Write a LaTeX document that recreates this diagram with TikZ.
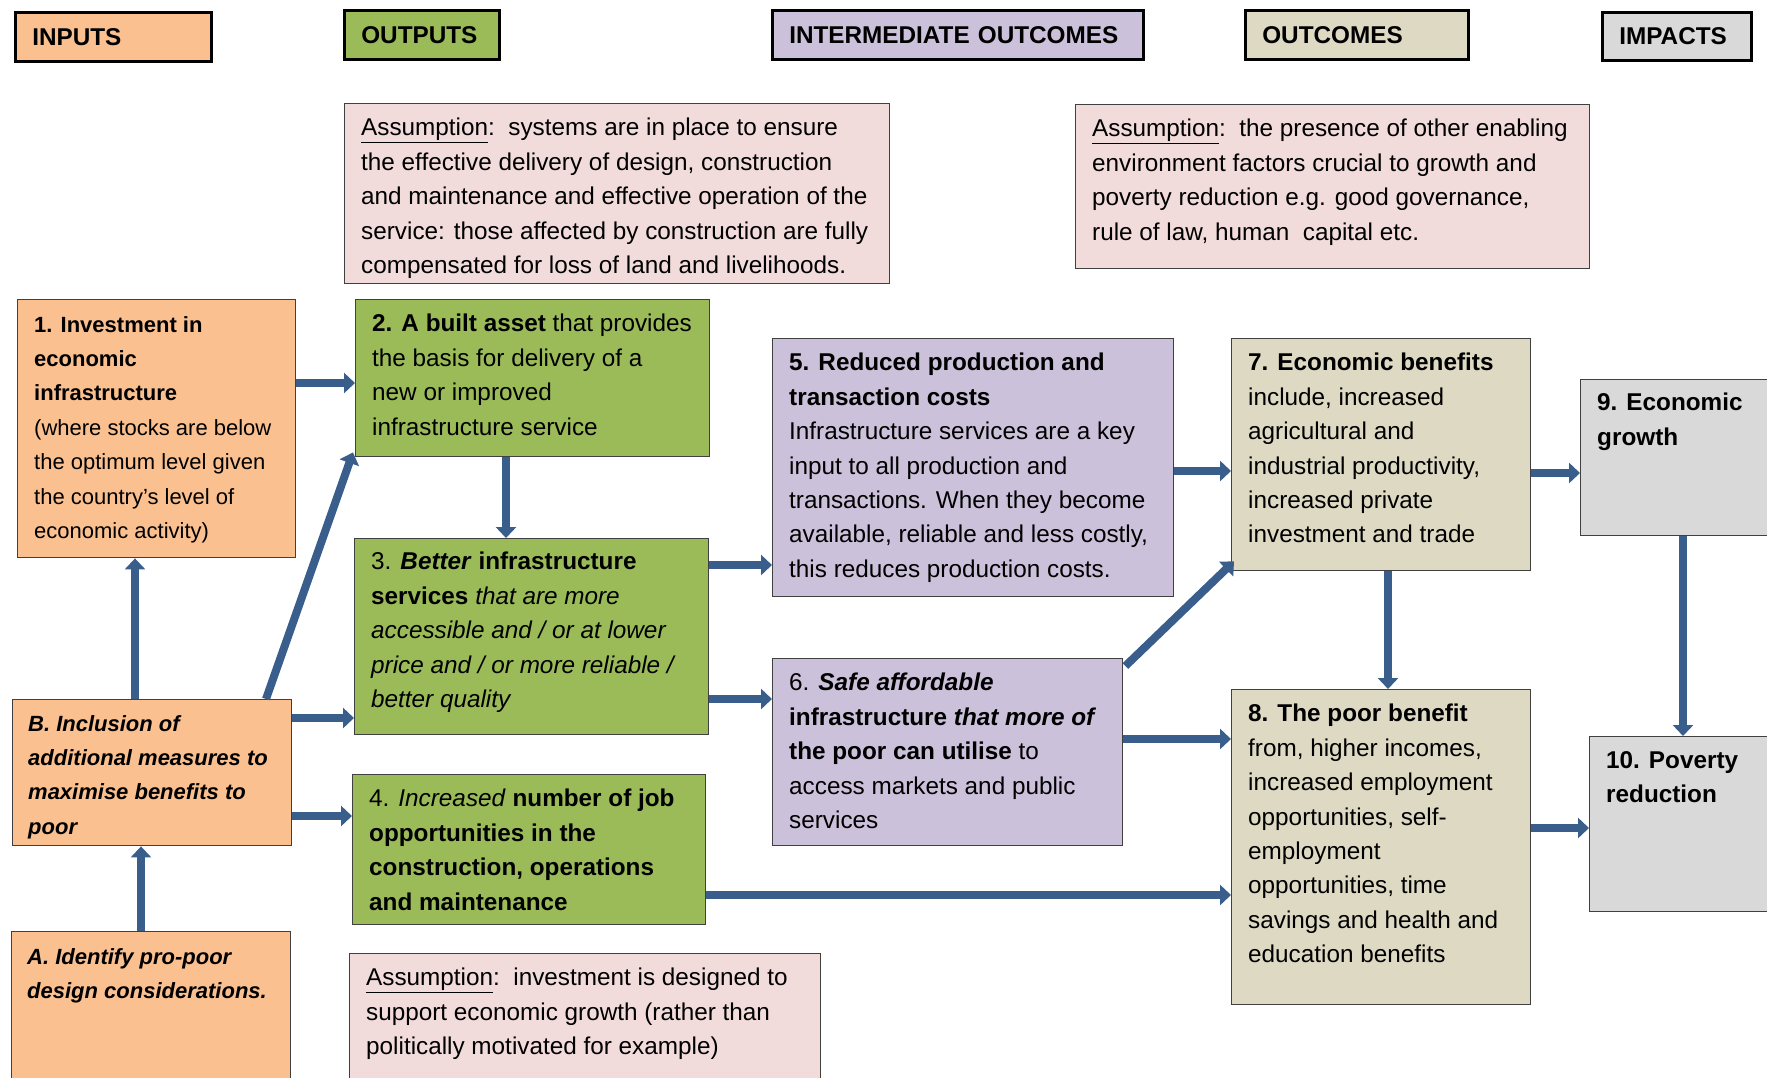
\documentclass[tikz,border=0pt]{standalone}
\usepackage{fontspec}
\setmainfont{Liberation Sans}
\usetikzlibrary{arrows.meta}
\definecolor{cOrange}{HTML}{FAC090}
\definecolor{cGreen}{HTML}{9BBB59}
\definecolor{cPurple}{HTML}{CCC1DA}
\definecolor{cTan}{HTML}{DDD9C3}
\definecolor{cGrey}{HTML}{D9D9D9}
\definecolor{cPink}{HTML}{F2DCDB}
\definecolor{cArrow}{HTML}{3A5E8C}
\definecolor{cBorder}{HTML}{404040}
\begin{document}
\begin{tikzpicture}[x=1pt,y=-1pt,
  box/.style={rectangle, draw=cBorder, line width=1.4pt, anchor=north west, inner sep=0pt},
  hdr/.style={rectangle, draw=black, line width=2.6pt, anchor=north west, inner xsep=17pt, inner ysep=0pt, align=left, font=\fontsize{24.3}{28}\selectfont\bfseries},
  txt/.style={anchor=north west, inner sep=0pt, align=left, font=\fontsize{24.3}{34.4}\selectfont},
  txts/.style={anchor=north west, inner sep=0pt, align=left, font=\fontsize{22}{34.4}\selectfont},
  arr/.style={draw=cArrow, line width=8pt, -{Triangle[width=20pt,length=11pt]}},
]
\useasboundingbox (0,0) rectangle (1767,1077);
\clip (0,0) rectangle (1767,1077);
\fill[white] (0,0) rectangle (1767,1077);

% headers
\node[hdr, fill=cOrange, text width=162pt, minimum height=49pt] (h1) at (14,11) {INPUTS};
\node[hdr, fill=cGreen, text width=121pt, minimum height=49pt] (h2) at (343,9) {OUTPUTS};
\node[hdr, fill=cPurple, text width=337pt, minimum height=49pt] (h3) at (771,9) {INTERMEDIATE OUTCOMES};
\node[hdr, fill=cTan, text width=189pt, minimum height=49pt] (h4) at (1244,9) {OUTCOMES};
\node[hdr, fill=cGrey, text width=115pt, minimum height=48pt] (h5) at (1601,11) {IMPACTS};

% assumption boxes
\node[box, fill=cPink, minimum width=545pt, minimum height=180pt] (a1) at (344,103) {};
\node[txt] (ta1) at ([shift={(17,15)}]a1.north west) {\underline{Assumption}:\ \ systems are in place to ensure\\the effective delivery of design, construction\\and maintenance and effective operation of the\\service: those affected by construction are fully\\compensated for loss of land and livelihoods.};
\node[box, fill=cPink, minimum width=514pt, minimum height=164pt] (a2) at (1075,104) {};
\node[txt] (ta2) at ([shift={(17,15)}]a2.north west) {\underline{Assumption}:\ \ the presence of other enabling\\environment factors crucial to growth and\\poverty reduction e.g. good governance,\\rule of law, human\ \ capital etc.};
\node[box, fill=cPink, minimum width=471pt, minimum height=160pt] (a3) at (349,953) {};
\node[txt] (ta3) at ([shift={(17,15)}]a3.north west) {\underline{Assumption}:\ \ investment is designed to\\support economic growth (rather than\\politically motivated for example)};

% inputs
\node[box, fill=cOrange, minimum width=278pt, minimum height=258pt] (b1) at (17,299) {};
\node[txts] (t1) at ([shift={(17,17)}]b1.north west) {\textbf{1. Investment in}\\\textbf{economic}\\\textbf{infrastructure}\\(where stocks are below\\the optimum level given\\the country’s level of\\economic activity)};
\node[box, fill=cOrange, minimum width=279pt, minimum height=146pt] (bB) at (12,699) {};
\node[txts] (tB) at ([shift={(16,16)}]bB.north west) {\textbf{\textit{B. Inclusion of}}\\\textbf{\textit{additional measures to}}\\\textbf{\textit{maximise benefits to}}\\\textbf{\textit{poor}}};
\node[box, fill=cOrange, minimum width=279pt, minimum height=170pt] (bA) at (11,931) {};
\node[txts] (tA) at ([shift={(16,17)}]bA.north west) {\textbf{\textit{A. Identify pro-poor}}\\\textbf{\textit{design considerations.}}};

% outputs
\node[box, fill=cGreen, minimum width=354pt, minimum height=157pt] (b2) at (355,299) {};
\node[txt] (t2) at ([shift={(17,15)}]b2.north west) {\textbf{2. A built asset} that provides\\the basis for delivery of a\\new or improved\\infrastructure service};
\node[box, fill=cGreen, minimum width=354pt, minimum height=196pt] (b3) at (354,538) {};
\node[txt] (t3) at ([shift={(17,14)}]b3.north west) {3. \textbf{\textit{Better}} \textbf{infrastructure}\\\textbf{services} \textit{that are more}\\\textit{accessible and / or at lower}\\\textit{price and / or more reliable /}\\\textit{better quality}};
\node[box, fill=cGreen, minimum width=353pt, minimum height=150pt] (b4) at (352,774) {};
\node[txt] (t4) at ([shift={(17,15)}]b4.north west) {4. \textit{Increased} \textbf{number of job}\\\textbf{opportunities in the}\\\textbf{construction, operations}\\\textbf{and maintenance}};

% intermediate outcomes
\node[box, fill=cPurple, minimum width=401pt, minimum height=258pt] (b5) at (772,338) {};
\node[txt] (t5) at ([shift={(17,15)}]b5.north west) {\textbf{5. Reduced production and}\\\textbf{transaction costs}\\Infrastructure services are a key\\input to all production and\\transactions. When they become\\available, reliable and less costly,\\this reduces production costs.};
\node[box, fill=cPurple, minimum width=350pt, minimum height=187pt] (b6) at (772,658) {};
\node[txt] (t6) at ([shift={(17,15)}]b6.north west) {6. \textbf{\textit{Safe affordable}}\\\textbf{infrastructure \textit{that more of}}\\\textbf{the poor can utilise} to\\access markets and public\\services};

% outcomes
\node[box, fill=cTan, minimum width=299pt, minimum height=232pt] (b7) at (1231,338) {};
\node[txt] (t7) at ([shift={(17,15)}]b7.north west) {\textbf{7. Economic benefits}\\include, increased\\agricultural and\\industrial productivity,\\increased private\\investment and trade};
\node[box, fill=cTan, minimum width=299pt, minimum height=315pt] (b8) at (1231,689) {};
\node[txt] (t8) at ([shift={(17,15)}]b8.north west) {\textbf{8. The poor benefit}\\from, higher incomes,\\increased employment\\opportunities, self-\\employment\\opportunities, time\\savings and health and\\education benefits};

% impacts
\node[box, fill=cGrey, minimum width=200pt, minimum height=156pt] (b9) at (1580,379) {};
\node[txt] (t9) at ([shift={(17,14)}]b9.north west) {\textbf{9. Economic}\\\textbf{growth}};
\node[box, fill=cGrey, minimum width=200pt, minimum height=175pt] (b10) at (1589,736) {};
\node[txt] (t10) at ([shift={(17,15)}]b10.north west) {\textbf{10. Poverty}\\\textbf{reduction}};

% arrows
\draw[arr] (b1.east |- 0,383) -- (b2.west |- 0,383);
\draw[arr] (b2.south -| 506,0) -- (b3.north -| 506,0);
\draw[arr] (bB.north -| 135,0) -- (b1.south -| 135,0);
\draw[arr] (bB.north -| 266,0) -- ([shift={(-2,-5)}]b2.south west);
\draw[arr] (bB.east |- 0,718) -- (b3.west |- 0,718);
\draw[arr] (bB.east |- 0,816) -- (b4.west |- 0,816);
\draw[arr] (bA.north -| 141,0) -- (bB.south -| 141,0);
\draw[arr] (b3.east |- 0,565) -- (b5.west |- 0,565);
\draw[arr] (b3.east |- 0,699) -- (b6.west |- 0,699);
\draw[arr] (b4.east |- 0,895) -- (b8.west |- 0,895);
\draw[arr] (b5.east |- 0,471) -- (b7.west |- 0,471);
\draw[arr] ([shift={(2,8)}]b6.north east) -- ([shift={(3,-10)}]b7.south west);
\draw[arr] (b6.east |- 0,739) -- (b8.west |- 0,739);
\draw[arr] (b7.south -| 1388,0) -- (b8.north -| 1388,0);
\draw[arr] (b7.east |- 0,473) -- (b9.west |- 0,473);
\draw[arr] (b9.south -| 1683,0) -- (b10.north -| 1683,0);
\draw[arr] (b8.east |- 0,828) -- (b10.west |- 0,828);
\end{tikzpicture}
\end{document}
